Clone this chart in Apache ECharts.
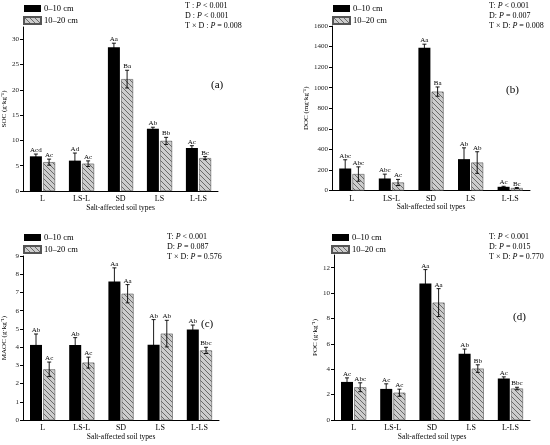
<!DOCTYPE html>
<html><head><meta charset="utf-8">
<script src="https://cdn.jsdelivr.net/npm/echarts@6/dist/echarts.min.js"></script>
<style>html,body{margin:0;padding:0;background:#fff}#c{width:550px;height:445px}</style>
</head><body><div id="c"></div>
<script>
// ---------- data ----------
const categories = ['L', 'LS-L', 'SD', 'LS', 'L-LS'];
const seriesNames = ['0–10 cm', '10–20 cm'];
const xAxisName = 'Salt-affected soil types';

const socTop = [6.85, 6.0, 28.4, 12.3, 8.5];
const socTopErr = [0.45, 1.5, 0.8, 0.3, 0.45];
const socSub = [5.7, 5.4, 22.1, 9.9, 6.5];
const socSubErr = [0.6, 0.55, 1.75, 0.7, 0.3];
const socTopSig = ['Acd', 'Ad', 'Aa', 'Ab', 'Ac'];
const socSubSig = ['Ac', 'Ac', 'Ba', 'Bb', 'Bc'];
const socStats = ['T : P < 0.001', 'D : P < 0.001', 'T × D : P = 0.008'];
const socTicks = [0, 5, 10, 15, 20, 25, 30];

const docTop = [214, 117, 1388, 305, 36];
const docTopErr = [85, 42, 35, 110, 5];
const docSub = [160, 78, 962, 272, 24];
const docSubErr = [70, 30, 45, 105, 5];
const docTopSig = ['Abc', 'Abc', 'Aa', 'Ab', 'Ac'];
const docSubSig = ['Abc', 'Ac', 'Ba', 'Ab', 'Bc'];
const docStats = ['T: P < 0.001', 'D: P = 0.007', 'T × D: P = 0.008'];
const docTicks = [0, 200, 400, 600, 800, 1000, 1200, 1400, 1600];

const maocTop = [4.12, 4.12, 7.6, 4.13, 4.96];
const maocTopErr = [0.6, 0.4, 0.75, 1.38, 0.25];
const maocSub = [2.78, 3.15, 6.93, 4.74, 3.82];
const maocSubErr = [0.4, 0.3, 0.5, 0.73, 0.17];
const maocTopSig = ['Ab', 'Ab', 'Aa', 'Ab', 'Ab'];
const maocSubSig = ['Ac', 'Ac', 'Aa', 'Ab', 'Bbc'];
const maocStats = ['T: P < 0.001', 'D: P = 0.087', 'T × D: P = 0.576'];
const maocTicks = [0, 1, 2, 3, 4, 5, 6, 7, 8, 9];

const pocTop = [3.0, 2.45, 10.75, 5.22, 3.27];
const pocTopErr = [0.32, 0.4, 1.1, 0.37, 0.13];
const pocSub = [2.58, 2.15, 9.25, 4.05, 2.48];
const pocSubErr = [0.35, 0.28, 1.1, 0.3, 0.1];
const pocTopSig = ['Ac', 'Ac', 'Aa', 'Ab', 'Ac'];
const pocSubSig = ['Abc', 'Ac', 'Aa', 'Bb', 'Bbc'];
const pocStats = ['T: P < 0.001', 'D: P = 0.015', 'T × D: P = 0.770'];
const pocTicks = [0, 2, 4, 6, 8, 10, 12];

const panelTags = ['(a)', '(b)', '(c)', '(d)'];
const yNames = ['SOC (g·kg⁻¹)', 'DOC (mg·kg⁻¹)', 'MAOC (g·kg⁻¹)', 'POC (g·kg⁻¹)'];

// ---------- layout / style ----------
const FONT = '"Liberation Serif", "Times New Roman", serif';
const layout = [
  {grid: {left: 23, top: 27, width: 195, height: 164}, max: 32.4, interval: 5, nameGap: 12,
   legend: {left: 23, top: 4}, stat: {left: 185, top: 1}, tag: {left: 211, top: 80}},
  {grid: {left: 332, top: 26, width: 198, height: 164.5}, max: 1600, interval: 200, nameGap: 20,
   legend: {left: 332, top: 4}, stat: {left: 489, top: 1}, tag: {left: 506, top: 85}},
  {grid: {left: 23, top: 256, width: 196, height: 164}, max: 9, interval: 1, nameGap: 15,
   legend: {left: 23, top: 233}, stat: {left: 167, top: 232}, tag: {left: 201, top: 319}},
  {grid: {left: 334, top: 255, width: 196, height: 165}, max: 13, interval: 2, nameGap: 13,
   legend: {left: 331, top: 233}, stat: {left: 489, top: 232}, tag: {left: 513, top: 312}}
];

const panels = [
  {top: socTop, topErr: socTopErr, sub: socSub, subErr: socSubErr, topSig: socTopSig, subSig: socSubSig, stats: socStats, ticks: socTicks},
  {top: docTop, topErr: docTopErr, sub: docSub, subErr: docSubErr, topSig: docTopSig, subSig: docSubSig, stats: docStats, ticks: docTicks},
  {top: maocTop, topErr: maocTopErr, sub: maocSub, subErr: maocSubErr, topSig: maocTopSig, subSig: maocSubSig, stats: maocStats, ticks: maocTicks},
  {top: pocTop, topErr: pocTopErr, sub: pocSub, subErr: pocSubErr, topSig: pocTopSig, subSig: pocSubSig, stats: pocStats, ticks: pocTicks}
];

function makeHatch() {
  const s = 5;
  const cv = document.createElement('canvas');
  cv.width = s; cv.height = s;
  const ctx = cv.getContext('2d');
  ctx.fillStyle = '#cdcdcd';
  ctx.fillRect(0, 0, s, s);
  ctx.strokeStyle = '#6a6a6a';
  ctx.lineWidth = 1;
  ctx.beginPath();
  ctx.moveTo(-1, -1); ctx.lineTo(s + 1, s + 1);
  ctx.moveTo(-1, s - 1); ctx.lineTo(1, s + 1);
  ctx.moveTo(s - 1, -1); ctx.lineTo(s + 1, 1);
  ctx.stroke();
  return cv;
}
const hatch = {image: makeHatch(), repeat: 'repeat'};

const BAR_W = 12;
const OFF = 6.6;

function errRender(errArr, sigArr, off) {
  return function (params, api) {
    const i = api.value(0), v = api.value(1), e = errArr[params.dataIndex];
    const pt = api.coord([i, v + e]);
    const pb = api.coord([i, Math.max(v - e, 0)]);
    const x = pt[0] + off;
    const ls = {stroke: '#000', lineWidth: 0.9};
    return {type: 'group', children: [
      {type: 'line', shape: {x1: x, y1: pt[1], x2: x, y2: pb[1]}, style: ls},
      {type: 'line', shape: {x1: x - 2, y1: pt[1], x2: x + 2, y2: pt[1]}, style: ls},
      {type: 'line', shape: {x1: x - 2, y1: pb[1], x2: x + 2, y2: pb[1]}, style: ls},
      {type: 'text', style: {x: x, y: pt[1] - 0.3, text: sigArr[params.dataIndex], align: 'center',
        verticalAlign: 'bottom', font: '7px ' + FONT, fill: '#000'}}
    ]};
  };
}

function statRich(s) {
  const parts = s.split('P');
  return '{n|' + parts[0] + '}{i|P}{n|' + parts[1] + '}';
}

const option = {
  backgroundColor: '#fff',
  animation: false,
  textStyle: {fontFamily: FONT, color: '#000'},
  grid: [], xAxis: [], yAxis: [], series: [], legend: [], title: []
};

panels.forEach((p, k) => {
  const L = layout[k];
  option.grid.push(Object.assign({containLabel: false}, L.grid));
  option.xAxis.push({
    type: 'category', gridIndex: k, data: categories,
    name: xAxisName, nameLocation: 'middle', nameGap: 13,
    nameTextStyle: {fontFamily: FONT, fontSize: 7.5, color: '#000'},
    axisLine: {show: true, lineStyle: {color: '#000', width: 1}},
    axisTick: {show: false},
    axisLabel: {fontFamily: FONT, fontSize: 8, color: '#000', margin: 4}
  });
  option.yAxis.push({
    type: 'value', gridIndex: k, min: 0, max: L.max, interval: L.interval,
    name: yNames[k], nameLocation: 'middle', nameGap: L.nameGap,
    nameTextStyle: {fontFamily: FONT, fontSize: 7, color: '#000'},
    axisLine: {show: true, lineStyle: {color: '#000', width: 1}},
    axisTick: {show: true, length: 3, inside: false, lineStyle: {color: '#000'}, customValues: p.ticks},
    axisLabel: {fontFamily: FONT, fontSize: 7, color: '#222', margin: 4, customValues: p.ticks,
      formatter: v => String(v)},
    splitLine: {show: false}
  });
  option.series.push({
    type: 'bar', name: seriesNames[0], xAxisIndex: k, yAxisIndex: k,
    data: p.top, barWidth: BAR_W, barGap: '10%',
    itemStyle: {color: '#000'}
  });
  option.series.push({
    type: 'bar', name: seriesNames[1], xAxisIndex: k, yAxisIndex: k,
    data: p.sub, barWidth: BAR_W, barGap: '10%',
    itemStyle: {color: hatch, borderColor: '#555', borderWidth: 0.6}
  });
  option.series.push({
    type: 'custom', xAxisIndex: k, yAxisIndex: k, z: 5,
    data: p.top.map((v, i) => [i, v]), encode: {x: 0, y: 1},
    renderItem: errRender(p.topErr, p.topSig, -OFF), clip: false
  });
  option.series.push({
    type: 'custom', xAxisIndex: k, yAxisIndex: k, z: 5,
    data: p.sub.map((v, i) => [i, v]), encode: {x: 0, y: 1},
    renderItem: errRender(p.subErr, p.subSig, OFF), clip: false
  });
  option.legend.push({
    data: seriesNames, orient: 'vertical', left: L.legend.left, top: L.legend.top,
    padding: 0, itemWidth: 17, itemHeight: 7, itemGap: 3, icon: 'rect', selectedMode: false,
    textStyle: {fontFamily: FONT, fontSize: 8.5, color: '#000', padding: [0, 0, 0, -2]}
  });
  option.title.push({
    text: p.stats.map(statRich).join('\n'), left: L.stat.left, top: L.stat.top, padding: 0,
    textStyle: {fontFamily: FONT, fontSize: 8, color: '#000', fontWeight: 'normal', lineHeight: 10,
      rich: {n: {fontFamily: FONT, fontSize: 8, color: '#000', lineHeight: 10},
             i: {fontFamily: FONT, fontSize: 8, color: '#000', fontStyle: 'italic', lineHeight: 10}}}
  });
  option.title.push({
    text: panelTags[k], left: L.tag.left, top: L.tag.top, padding: 0,
    textStyle: {fontFamily: FONT, fontSize: 11, color: '#000', fontWeight: 'normal'}
  });
});

const chart = echarts.init(document.getElementById('c'), null, {renderer: 'canvas'});
chart.setOption(option);
</script></body></html>
